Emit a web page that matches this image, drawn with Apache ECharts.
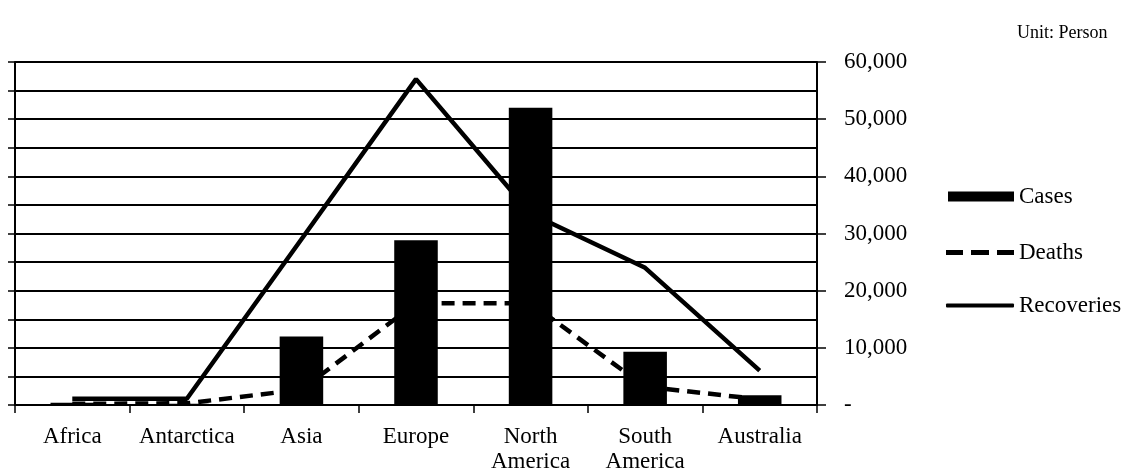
<!DOCTYPE html>
<html>
<head>
<meta charset="utf-8">
<script src="https://cdn.jsdelivr.net/npm/echarts@6/dist/echarts.min.js"></script>
<style>
html,body{margin:0;padding:0;background:#fff;}
#chart{width:1142px;height:472px;}
</style>
</head>
<body>
<div id="chart"></div>
<script>
const categories = ['Africa', 'Antarctica', 'Asia', 'Europe', 'North\nAmerica', 'South\nAmerica', 'Australia'];
const cases = [400, 200, 12000, 28800, 52000, 9300, 1700];
const deaths = [200, 300, 2700, 17800, 17800, 3200, 1000];
const recoveries = [1100, 1100, 29000, 57000, 33500, 24000, 6000];
const unitLabel = 'Unit: Person';

const FONT = '"Liberation Serif", "Times New Roman", serif';
const legendText = {fontFamily: FONT, fontSize: 23, color: '#000', padding: 0};
const chart = echarts.init(document.getElementById('chart'), null, {renderer: 'canvas'});
chart.setOption({
  backgroundColor: '#fff',
  animation: false,
  textStyle: {fontFamily: FONT, color: '#000'},
  grid: {left: 15, right: 325, top: 62, bottom: 67, containLabel: false, outerBoundsMode: 'none'},
  graphic: [{
    type: 'text', left: 1017, top: 24,
    style: {text: unitLabel, font: '18px ' + FONT, fill: '#000'}
  }],
  legend: [{
    left: 943, top: 180, itemWidth: 66, itemHeight: 10,
    textStyle: legendText,
    data: [{name: 'Cases', icon: 'rect', itemStyle: {color: '#000'}}]
  }, {
    left: 941, top: 236, itemWidth: 68, itemHeight: 5,
    textStyle: legendText,
    data: [{name: 'Deaths', icon: 'path://M0,0h17v5h-17z M25,0h18v5h-18z M51,0h17v5h-17z', itemStyle: {color: '#000'}}]
  }, {
    left: 941, top: 289, itemWidth: 68, itemHeight: 4,
    textStyle: legendText,
    data: [{name: 'Recoveries', icon: 'roundRect', itemStyle: {color: '#000'}}]
  }],
  xAxis: {
    type: 'category', data: categories, boundaryGap: true,
    axisLine: {lineStyle: {color: '#000', width: 2}},
    axisTick: {show: true, length: 8, lineStyle: {color: '#000', width: 1.5}},
    axisLabel: {fontFamily: FONT, fontSize: 23, color: '#000', margin: 19, lineHeight: 25, interval: 0}
  },
  yAxis: [{
    type: 'value', position: 'right', min: 0, max: 60000, interval: 10000,
    axisLine: {show: true, lineStyle: {color: '#000', width: 2}},
    axisTick: {show: true, length: 9, lineStyle: {color: '#000', width: 1.5}},
    axisLabel: {
      fontFamily: FONT, fontSize: 23, color: '#000', margin: 27,
      formatter: v => v === 0 ? '-' : v.toLocaleString('en-US')
    },
    splitLine: {show: true, lineStyle: {color: '#000', width: 2}},
    minorTick: {show: false, splitNumber: 2},
    minorSplitLine: {show: true, lineStyle: {color: '#000', width: 2}}
  }, {
    type: 'value', position: 'left', min: 0, max: 60000, interval: 5000,
    axisLine: {show: true, lineStyle: {color: '#000', width: 2}},
    axisTick: {show: true, length: 7, lineStyle: {color: '#000', width: 1.5}},
    axisLabel: {show: false},
    splitLine: {show: false}
  }],
  series: [{
    name: 'Cases', type: 'bar', data: cases, yAxisIndex: 0,
    barWidth: '38%', z: 5,
    itemStyle: {color: '#000'}
  }, {
    name: 'Deaths', type: 'line', data: deaths, yAxisIndex: 0,
    symbol: 'none', z: 3,
    lineStyle: {color: '#000', width: 4.5, type: [13, 8]},
    itemStyle: {color: '#000'}
  }, {
    name: 'Recoveries', type: 'line', data: recoveries, yAxisIndex: 0,
    symbol: 'none', z: 3,
    lineStyle: {color: '#000', width: 4.5},
    itemStyle: {color: '#000'}
  }]
});
</script>
</body>
</html>
